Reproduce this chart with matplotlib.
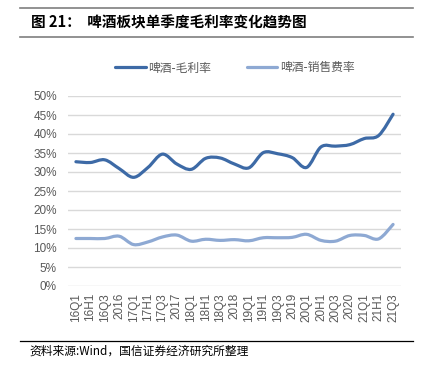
import matplotlib
matplotlib.use("Agg")
import matplotlib.pyplot as plt
from matplotlib.path import Path
from matplotlib.patches import PathPatch
from matplotlib.lines import Line2D
import numpy as np

plt.rcParams['font.family'] = ['Liberation Sans', 'Noto Sans CJK SC', 'DejaVu Sans']

categories = ["16Q1", "16H1", "16Q3", "2016", "17Q1", "17H1", "17Q3", "2017",
              "18Q1", "18H1", "18Q3", "2018", "19Q1", "19H1", "19Q3", "2019",
              "20Q1", "20H1", "20Q3", "2020", "21Q1", "21H1", "21Q3"]
gross_margin = [32.7, 32.5, 33.2, 30.9, 28.6, 31.2, 34.7, 32.1, 30.7, 33.6, 33.7, 32.1,
                31.1, 35.1, 34.8, 33.8, 31.2, 36.6, 36.8, 37.2, 38.8, 39.6, 45.2]
sales_expense = [12.5, 12.5, 12.5, 13.1, 10.9, 11.6, 12.9, 13.4, 11.8, 12.3, 12.0, 12.2,
                 11.9, 12.7, 12.7, 12.8, 13.6, 12.0, 11.8, 13.3, 13.3, 12.4, 16.2]
series_names = ["啤酒-毛利率", "啤酒-销售费率"]
yticks = [0, 5, 10, 15, 20, 25, 30, 35, 40, 45, 50]

title = "图 21：  啤酒板块单季度毛利率变化趋势图"
source = "资料来源:Wind，国信证券经济研究所整理"

c_dark = "#3D6AA6"
c_light = "#8EA9D3"

W, H = 431, 387
fig = plt.figure(figsize=(W / 100, H / 100), dpi=100)
ax = fig.add_axes([68 / W, 1 - 286 / H, (401 - 68) / W, (286 - 96) / H])

x = np.arange(len(categories))


def smooth_path(xs, ys, t=0.5):
    xs = np.asarray(xs, float)
    ys = np.asarray(ys, float)
    verts = [(xs[0], ys[0])]
    codes = [Path.MOVETO]
    n = len(xs)
    for i in range(n - 1):
        x0, y0 = (xs[i - 1], ys[i - 1]) if i > 0 else (xs[i], ys[i])
        x1, y1 = xs[i], ys[i]
        x2, y2 = xs[i + 1], ys[i + 1]
        x3, y3 = (xs[i + 2], ys[i + 2]) if i + 2 < n else (xs[i + 1], ys[i + 1])
        c1 = (x1 + (x2 - x0) * t / 6, y1 + (y2 - y0) * t / 6)
        c2 = (x2 - (x3 - x1) * t / 6, y2 - (y3 - y1) * t / 6)
        verts += [c1, c2, (x2, y2)]
        codes += [Path.CURVE4] * 3
    return Path(verts, codes)


for ys, col in [(gross_margin, c_dark), (sales_expense, c_light)]:
    p = PathPatch(smooth_path(x, ys, 1.0), facecolor="none", edgecolor=col,
                  lw=2.3, capstyle="round", joinstyle="round", zorder=3)
    ax.add_patch(p)

ax.set_xlim(-0.55, len(categories) - 1 + 0.55)
ax.set_ylim(0, 50)
ax.set_yticks(yticks)
ax.set_yticklabels([f"{v}%" for v in yticks], fontsize=8.5, color="#595959")
ax.set_xticks(x)
ax.set_xticklabels(categories, rotation=90, fontsize=8.5, color="#595959")
ax.grid(axis="y", color="#D9D9D9", lw=1)
ax.set_axisbelow(True)
for s in ax.spines.values():
    s.set_visible(False)
ax.tick_params(length=0, pad=8)
ax.tick_params(axis="x", pad=5)

handles = [Line2D([], [], color=c_dark, lw=2.3, solid_capstyle="round"),
           Line2D([], [], color=c_light, lw=2.3, solid_capstyle="round")]
fig.legend(handles, series_names, loc="center", bbox_to_anchor=(0.545, 1 - 68 / H),
           ncol=2, frameon=False, handlelength=2.6, columnspacing=3.0,
           handletextpad=0.2, prop={"family": ["Noto Sans CJK SC"], "size": 8.5},
           labelcolor="#595959")

# header lines and title
fig.add_artist(Line2D([20 / W, 413 / W], [1 - 8 / H, 1 - 8 / H], color="#7F7F7F", lw=1.2))
fig.add_artist(Line2D([20 / W, 413 / W], [1 - 37 / H, 1 - 37 / H], color="#7F7F7F", lw=1.2))
fig.text(31 / W, 1 - 22 / H, title, fontsize=10.5, fontweight="bold",
         family=["Noto Sans CJK SC"], va="center", ha="left", color="#000000")

fig.add_artist(Line2D([20 / W, 413 / W], [1 - 341 / H, 1 - 341 / H], color="#000000", lw=0.9))
fig.text(29 / W, 1 - 351 / H, source, fontsize=8.5,
         family=["Noto Sans CJK SC"], va="center", ha="left", color="#000000")

fig.savefig("out.png", dpi=100)
